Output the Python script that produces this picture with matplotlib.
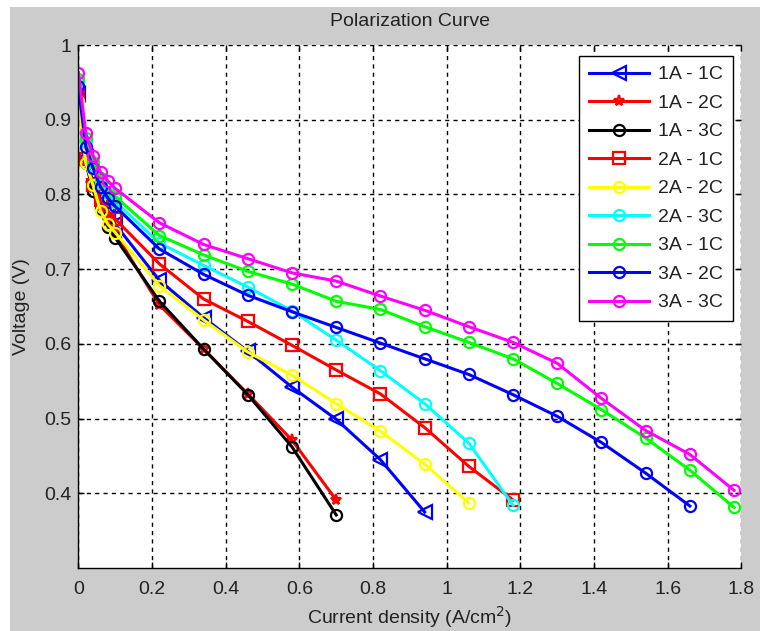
import matplotlib
matplotlib.use("Agg")
import matplotlib.pyplot as plt
from matplotlib.patches import Rectangle
from matplotlib.ticker import FuncFormatter

plt.rcParams['font.family'] = ['Liberation Sans', 'DejaVu Sans']

# Current density sampling points (A/cm^2)
current_density = [0.00, 0.02, 0.04, 0.06, 0.08, 0.10, 0.22, 0.34, 0.46, 0.58,
                   0.70, 0.82, 0.94, 1.06, 1.18, 1.30, 1.42, 1.54, 1.66, 1.78]

series_labels = ['1A - 1C', '1A - 2C', '1A - 3C', '2A - 1C', '2A - 2C',
                 '2A - 3C', '3A - 1C', '3A - 2C', '3A - 3C']

v_1a_1c = [0.935, 0.850, 0.816, 0.795, 0.777, 0.760, 0.685, 0.635, 0.590, 0.542,
           0.499, 0.445, 0.375]
v_1a_2c = [0.930, 0.845, 0.808, 0.785, 0.765, 0.748, 0.652, 0.593, 0.533, 0.471,
           0.391]
v_1a_3c = [0.930, 0.842, 0.805, 0.780, 0.757, 0.742, 0.657, 0.593, 0.532, 0.462,
           0.371]
v_2a_1c = [0.935, 0.848, 0.812, 0.792, 0.778, 0.767, 0.707, 0.660, 0.630, 0.598,
           0.565, 0.533, 0.488, 0.436, 0.391]
v_2a_2c = [0.925, 0.842, 0.812, 0.778, 0.760, 0.749, 0.678, 0.632, 0.589, 0.558,
           0.520, 0.483, 0.439, 0.387]
v_2a_3c = [0.950, 0.870, 0.838, 0.815, 0.802, 0.790, 0.735, 0.705, 0.676, 0.644,
           0.605, 0.564, 0.520, 0.467, 0.384]
v_3a_1c = [0.955, 0.875, 0.843, 0.822, 0.808, 0.797, 0.745, 0.719, 0.697, 0.680,
           0.657, 0.646, 0.623, 0.602, 0.580, 0.547, 0.512, 0.474, 0.431, 0.381]
v_3a_2c = [0.945, 0.864, 0.835, 0.810, 0.795, 0.784, 0.727, 0.693, 0.665, 0.643,
           0.622, 0.601, 0.580, 0.559, 0.532, 0.503, 0.468, 0.427, 0.383]
v_3a_3c = [0.963, 0.882, 0.852, 0.830, 0.818, 0.808, 0.762, 0.733, 0.714, 0.695,
           0.684, 0.664, 0.645, 0.623, 0.602, 0.574, 0.527, 0.484, 0.452, 0.404]

voltages = [v_1a_1c, v_1a_2c, v_1a_3c, v_2a_1c, v_2a_2c, v_2a_3c,
            v_3a_1c, v_3a_2c, v_3a_3c]

styles = [
    dict(color='#0000ff', marker='<', ms=10),
    dict(color='#ff0000', marker='*', ms=8),
    dict(color='#000000', marker='o', ms=8),
    dict(color='#ff0000', marker='s', ms=9),
    dict(color='#ffff00', marker='o', ms=8),
    dict(color='#00ffff', marker='o', ms=8),
    dict(color='#00ff00', marker='o', ms=8),
    dict(color='#0000ff', marker='o', ms=8),
    dict(color='#ff00ff', marker='o', ms=8),
]

fig = plt.figure(figsize=(7.6, 6.31), dpi=100, facecolor='white')
# grey window panel
fig.patches.append(Rectangle((10 / 760, 0), 750 / 760, 624 / 631,
                             transform=fig.transFigure, facecolor='#cccccc',
                             edgecolor='none', zorder=-10))

ax = fig.add_axes([78.4 / 760, 63 / 631, 663 / 760, 523 / 631])
ax.set_facecolor('white')

for v, lab, st in zip(voltages, series_labels, styles):
    ax.plot(current_density[:len(v)], v, color=st['color'], marker=st['marker'],
            ms=st['ms'], mfc='none', mec=st['color'], mew=1.6, lw=2.2,
            label=lab)

ax.set_xlim(0, 1.8)
ax.set_ylim(0.3, 1.0)
ax.set_xticks([0, 0.2, 0.4, 0.6, 0.8, 1.0, 1.2, 1.4, 1.6, 1.8])
ax.set_yticks([0.4, 0.5, 0.6, 0.7, 0.8, 0.9, 1.0])
fmt = FuncFormatter(lambda val, pos: ('%g' % round(val, 2)))
ax.xaxis.set_major_formatter(fmt)
ax.yaxis.set_major_formatter(fmt)

ax.grid(True, color='black', linestyle=(0, (3, 3)), linewidth=1)
ax.set_axisbelow(True)
for side in ('top', 'right'):
    ax.spines[side].set_visible(False)
for side in ('left', 'bottom'):
    ax.spines[side].set_linewidth(1)

ax.tick_params(direction='in', length=4, width=1, top=True, right=True,
               labelsize=14, colors='black', labelcolor='#222222')
ax.tick_params(axis='y', pad=5)
ax.tick_params(axis='x', pad=9)

ax.set_title('Polarization Curve', fontsize=14, color='#222222', pad=14)
ax.set_xlabel('Current density (A/cm$^2$)', fontsize=14, color='#222222',
              labelpad=5)
ax.set_ylabel('Voltage (V)', fontsize=14, color='#222222', labelpad=10)

leg = ax.legend(loc='upper right', bbox_to_anchor=(0.987, 0.979),
                fontsize=14, numpoints=1, handlelength=3.1,
                handletextpad=0.45, labelspacing=0.56, borderpad=0.5,
                fancybox=False, framealpha=1, edgecolor='black',
                borderaxespad=0)
leg.get_frame().set_linewidth(1)
for t in leg.get_texts():
    t.set_color('#222222')

fig.savefig('out.png', dpi=100, facecolor=fig.get_facecolor())
